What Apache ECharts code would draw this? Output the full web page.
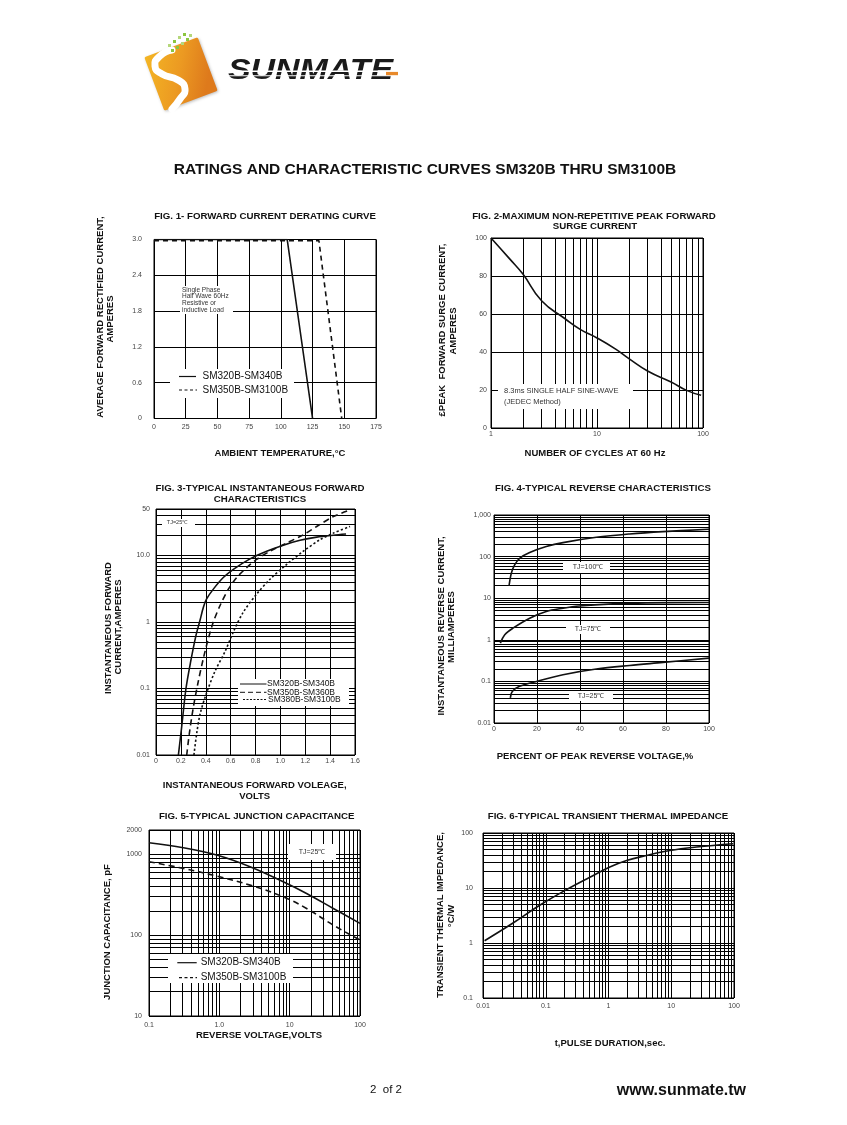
<!DOCTYPE html>
<html><head><meta charset="utf-8">
<script src="https://cdn.jsdelivr.net/npm/echarts@6/dist/echarts.min.js"></script>
<style>html,body{margin:0;padding:0;background:#fff}#c{width:847px;height:1125px}</style>
</head><body><div id="c"></div>
<script>
const FONT = '"Liberation Sans", Arial, sans-serif';

// ---------- FIG 1 : forward current derating ----------
const fig1XTickVals = [0, 25, 50, 75, 100, 125, 150, 175];
const fig1XTickText = ['0', '25', '50', '75', '100', '125', '150', '175'];
const fig1YTickVals = [0, 0.6, 1.2, 1.8, 2.4, 3.0];
const fig1YTickText = ['0', '0.6', '1.2', '1.8', '2.4', '3.0'];
const fig1Solid  = [[0, 3.0], [105, 3.0], [125, 0]];
const fig1Dashed = [[0, 2.98], [130, 2.98], [148, 0]];

// ---------- FIG 2 : peak forward surge current ----------
const fig2XTickVals = [1, 10, 100];
const fig2XTickText = ['1', '10', '100'];
const fig2YTickVals = [0, 20, 40, 60, 80, 100];
const fig2YTickText = ['0', '20', '40', '60', '80', '100'];
const fig2Curve = [[1, 100], [1.5, 89], [2, 81], [3, 67], [5, 57.5], [7, 51.8], [10, 47.4],
  [15, 41.5], [20, 36.5], [30, 30], [50, 24.2], [70, 19.8], [96, 17.2]];

// ---------- FIG 3 : instantaneous forward characteristics ----------
const fig3XTickVals = [0, 0.2, 0.4, 0.6, 0.8, 1.0, 1.2, 1.4, 1.6];
const fig3XTickText = ['0', '0.2', '0.4', '0.6', '0.8', '1.0', '1.2', '1.4', '1.6'];
const fig3YTickVals = [0.01, 0.1, 1, 10, 50];
const fig3YTickText = ['0.01', '0.1', '1', '10.0', '50'];
const fig3Solid = [[0.18, 0.01], [0.206, 0.026], [0.241, 0.1], [0.279, 0.255], [0.322, 0.634],
  [0.354, 1.06], [0.381, 1.67], [0.407, 2.22], [0.461, 3.12], [0.541, 4.66], [0.622, 6.2],
  [0.756, 8.9], [0.890, 11.6], [1.024, 14.3], [1.158, 16.9], [1.292, 18.9], [1.426, 20.2], [1.528, 21.0]];
const fig3Dashed = [[0.247, 0.01], [0.268, 0.021], [0.300, 0.052], [0.340, 0.128], [0.381, 0.285],
  [0.421, 0.565], [0.461, 1.0], [0.515, 1.77], [0.582, 3.12], [0.649, 4.66], [0.729, 6.56],
  [0.809, 8.73], [0.917, 11.6], [1.051, 15.4], [1.185, 20.5], [1.292, 27.3], [1.426, 38.5], [1.546, 47.3]];
const fig3Dotted = [[0.305, 0.01], [0.327, 0.021], [0.354, 0.041], [0.402, 0.081], [0.474, 0.181],
  [0.555, 0.36], [0.622, 0.71], [0.702, 1.41], [0.809, 2.63], [0.917, 4.4], [1.051, 7.36],
  [1.185, 11.6], [1.319, 17.3], [1.426, 21.7], [1.560, 27.3]];

// ---------- FIG 4 : typical reverse characteristics ----------
const fig4XTickVals = [0, 20, 40, 60, 80, 100];
const fig4XTickText = ['0', '20', '40', '60', '80', '100'];
const fig4YTickVals = [0.01, 0.1, 1, 10, 100, 1000];
const fig4YTickText = ['0.01', '0.1', '1', '10', '100', '1,000'];
const fig4Tj100 = [[7.0, 19.8], [8.06, 39.8], [9.6, 63], [11.9, 91], [16.6, 125], [24.3, 174],
  [32.1, 217], [47.6, 291], [63.1, 350], [78.6, 398], [100, 453]];
const fig4Tj75 = [[2.95, 0.83], [5.0, 1.32], [8.8, 1.9], [16.6, 3.3], [24.3, 4.8], [32.1, 5.75],
  [39.8, 6.5], [55.3, 7.3], [70.9, 7.7], [100, 7.9]];
const fig4Tj25 = [[7.6, 0.04], [8.5, 0.0575], [11.9, 0.076], [19.7, 0.1], [32.1, 0.145],
  [47.6, 0.198], [63.1, 0.242], [78.6, 0.286], [100, 0.363]];

// ---------- FIG 5 : typical junction capacitance ----------
const fig5XTickVals = [0.1, 1, 10, 100];
const fig5XTickText = ['0.1', '1.0', '10', '100'];
const fig5YTickVals = [10, 100, 1000, 2000];
const fig5YTickText = ['10', '100', '1000', '2000'];
const fig5Solid = [[0.1, 1390], [0.308, 1208], [0.916, 980], [2.73, 703], [8.1, 458],
  [17.4, 328], [41.7, 214], [100, 140]];
const fig5Dashed = [[0.1, 809], [0.308, 670], [0.916, 538], [2.73, 416], [8.1, 298],
  [17.4, 214], [41.7, 133], [100, 87]];

// ---------- FIG 6 : transient thermal impedance ----------
const fig6XTickVals = [0.01, 0.1, 1, 10, 100];
const fig6XTickText = ['0.01', '0.1', '1', '10', '100'];
const fig6YTickVals = [0.1, 1, 10, 100];
const fig6YTickText = ['0.1', '1', '10', '100'];
const fig6Curve = [[0.0106, 1.10], [0.0301, 2.31], [0.080, 4.85], [0.214, 9.35], [0.504, 15.7],
  [1.05, 24], [1.94, 31.6], [4.04, 39], [9.5, 48], [25.3, 55.5], [97, 63.8]];

// ---------- helpers ----------
function minorLog(min, max) {
  const out = [];
  for (let k = -3; k <= 4; k++) {
    for (let m = 2; m <= 9; m++) {
      const v = Number((m * Math.pow(10, k)).toPrecision(6));
      if (v > min * 1.0001 && v < max * 0.9999) out.push(v);
    }
  }
  return out;
}
function lab(vals, texts) {
  return function (v) {
    for (let i = 0; i < vals.length; i++) {
      if (Math.abs(v - vals[i]) <= Math.abs(vals[i]) * 1e-6 + 1e-9) return texts[i];
    }
    return '';
  };
}
function axis(gridIndex, type, min, max, vals, texts, margin, extra) {
  const a = {
    gridIndex: gridIndex, type: type, min: min, max: max,
    axisLine: { show: false }, axisTick: { show: false },
    splitLine: { show: true, lineStyle: { color: '#000', width: 1 } },
    axisLabel: { fontSize: 7, color: '#444', fontFamily: FONT, margin: margin, formatter: lab(vals, texts) }
  };
  if (type === 'log') a.logBase = 10;
  return Object.assign(a, extra || {});
}
function gridLines(xs, ys) {
  const data = [];
  (xs || []).forEach(v => data.push({ xAxis: v }));
  (ys || []).forEach(v => data.push({ yAxis: v }));
  return {
    silent: true, symbol: ['none', 'none'], animation: false, z: 1,
    label: { show: false }, emphasis: { disabled: true },
    lineStyle: { color: '#000', width: 1, type: 'solid', opacity: 1 },
    data: data
  };
}
function curve(gi, data, dash, smooth, ml) {
  const s = {
    type: 'line', xAxisIndex: gi, yAxisIndex: gi, data: data, symbol: 'none',
    smooth: smooth, silent: true, animation: false, z: 3,
    lineStyle: { color: '#111', width: 1.6, type: dash || 'solid' }
  };
  if (ml) s.markLine = ml;
  return s;
}

// ---------- graphic annotations ----------
const G = [];
function txt(x, y, text, font, opts) {
  opts = opts || {};
  G.push({
    type: 'text', x: x, y: y, z: 60, rotation: opts.rot || 0, scaleX: opts.sx || 1, silent: true,
    style: {
      text: text, fill: opts.color || '#111', font: font,
      align: opts.align || 'center', verticalAlign: 'middle',
      textAlign: opts.align || 'center', textVerticalAlign: 'middle'
    }
  });
}
function white(x, y, w, h) {
  G.push({ type: 'rect', z: 50, silent: true, shape: { x: x, y: y, width: w, height: h }, style: { fill: '#fff' } });
}
function seg(x1, y1, x2, y2, dash, w) {
  G.push({ type: 'line', z: 61, silent: true, shape: { x1: x1, y1: y1, x2: x2, y2: y2 },
    style: { stroke: '#111', lineWidth: w || 1.2, lineDash: dash || null } });
}
const B = (s) => 'bold ' + s + 'px ' + FONT;
const R = (s) => s + 'px ' + FONT;
const ROT = Math.PI / 2;

// Logo
G.push({
  type: 'rect', x: 181, y: 74, rotation: 20.5 * Math.PI / 180, z: 40, silent: true,
  shape: { x: -28.5, y: -28.5, width: 57, height: 57, r: 1.5 },
  style: {
    fill: { type: 'linear', x: 0, y: 0, x2: 1, y2: 0.6,
      colorStops: [{ offset: 0, color: '#f4b624' }, { offset: 0.55, color: '#ec9a22' }, { offset: 1, color: '#de7a1c' }] },
    shadowColor: 'rgba(0,0,0,0.25)', shadowBlur: 3, shadowOffsetX: 1, shadowOffsetY: 1
  }
});
G.push({
  type: 'polyline', z: 41, silent: true,
  shape: { points: [[172, 50], [160, 56], [155, 66], [162, 74], [178, 80], [185, 89], [180, 99], [172, 109]], smooth: 0.6 },
  style: { stroke: '#fff', lineWidth: 7, fill: null, lineCap: 'round' }
});
[[183, 33, '#8cc63e'], [178, 36, '#b5d77a'], [186, 38, '#8cc63e'], [173, 40, '#8cc63e'],
 [181, 42, '#b5d77a'], [168, 44, '#b5d77a'], [176, 46, '#8cc63e'], [171, 49, '#8cc63e'], [189, 34, '#b5d77a']]
  .forEach(p => G.push({ type: 'rect', z: 42, silent: true, shape: { x: p[0], y: p[1], width: 3, height: 3 }, style: { fill: p[2] } }));
txt(228, 71, 'SUNMATE', 'italic bold 30px ' + FONT, { align: 'left', sx: 1.13, color: '#1a1a1a' });
G.push({ type: 'rect', z: 62, silent: true, shape: { x: 226, y: 70.5, width: 176, height: 1.4 }, style: { fill: '#fff' } });
G.push({ type: 'rect', z: 62, silent: true, shape: { x: 226, y: 75.2, width: 176, height: 1.1 }, style: { fill: '#fff' } });
G.push({ type: 'rect', z: 63, silent: true, shape: { x: 386, y: 71.9, width: 12, height: 3.3 }, style: { fill: '#e8892a' } });

// Main title
txt(425, 170, 'RATINGS AND CHARACTERISTIC CURVES SM320B THRU SM3100B', B(15.5));

// Fig 1 texts
txt(265, 216.7, 'FIG. 1- FORWARD CURRENT DERATING CURVE', B(9.7));
txt(100, 317, 'AVERAGE FORWARD RECTIFIED CURRENT,', B(9.5), { rot: ROT });
txt(110, 319, 'AMPERES', B(9.5), { rot: ROT });
txt(280, 453.3, 'AMBIENT TEMPERATURE,°C', B(9.5));
white(180, 286, 53, 28);
txt(182, 290, 'Single Phase', R(6.5), { align: 'left', color: '#333' });
txt(182, 296.7, 'Half Wave 60Hz', R(6.5), { align: 'left', color: '#333' });
txt(182, 303.3, 'Resistive or', R(6.5), { align: 'left', color: '#333' });
txt(182, 310, 'inductive Load', R(6.5), { align: 'left', color: '#333' });
white(170, 369, 124, 29);
seg(179, 376.5, 196, 376.5);
txt(202.5, 376.5, 'SM320B-SM340B', R(10), { align: 'left' });
seg(179, 390, 197, 390, [3, 2.5]);
txt(202.5, 390.7, 'SM350B-SM3100B', R(10), { align: 'left' });

// Fig 2 texts
txt(594, 216.7, 'FIG. 2-MAXIMUM NON-REPETITIVE PEAK FORWARD', B(9.7));
txt(595, 226.7, 'SURGE CURRENT', B(9.7));
txt(442, 330, '£PEAK  FORWARD SURGE CURRENT,', B(9.5), { rot: ROT });
txt(453, 331, 'AMPERES', B(9.5), { rot: ROT });
txt(595, 453.3, 'NUMBER OF CYCLES AT 60 Hz', B(9.5));
white(498, 384, 135, 25);
txt(504, 391, '8.3ms SINGLE HALF SINE-WAVE', R(7.5), { align: 'left', color: '#333' });
txt(504, 401.5, '(JEDEC Method)', R(7.5), { align: 'left', color: '#333' });

// Fig 3 texts
txt(260, 488.3, 'FIG. 3-TYPICAL INSTANTANEOUS FORWARD', B(9.7));
txt(260, 499, 'CHARACTERISTICS', B(9.7));
txt(108.3, 628, 'INSTANTANEOUS FORWARD', B(9.5), { rot: ROT });
txt(118.3, 627, 'CURRENT,AMPERES', B(9.5), { rot: ROT });
txt(254.7, 785, 'INSTANTANEOUS FORWARD VOLEAGE,', B(9.5));
txt(254.7, 796.3, 'VOLTS', B(9.5));
white(162, 519, 33, 8);
txt(177, 522.7, 'TJ=25℃', R(5.5), { color: '#333' });
white(238, 679, 111, 27);
seg(240, 684, 266.5, 684, null, 1);
txt(267, 684, 'SM320B-SM340B', R(8.5), { align: 'left' });
seg(240, 692.3, 266.5, 692.3, [5, 3], 1);
txt(267, 692.3, 'SM350B-SM360B', R(8.5), { align: 'left' });
seg(243, 699.5, 266.5, 699.5, [2, 1.5], 1);
txt(268, 699.5, 'SM380B-SM3100B', R(8.5), { align: 'left' });

// Fig 4 texts
txt(603, 488.3, 'FIG. 4-TYPICAL REVERSE CHARACTERISTICS', B(9.7));
txt(441.7, 626, 'INSTANTANEOUS REVERSE CURRENT,', B(9.5), { rot: ROT });
txt(451.7, 627, 'MILLIAMPERES', B(9.5), { rot: ROT });
txt(595, 756.7, 'PERCENT OF PEAK REVERSE VOLTAGE,%', B(9.5));
white(563, 562, 47, 11);
txt(588, 567.5, 'TJ=100℃', R(7), { color: '#333' });
white(566, 625, 44, 9);
txt(588, 629.5, 'TJ=75℃', R(7), { color: '#333' });
white(569, 691, 44, 10);
txt(591, 696, 'TJ=25℃', R(7), { color: '#333' });

// Fig 5 texts
txt(256.7, 816.7, 'FIG. 5-TYPICAL JUNCTION CAPACITANCE', B(9.7));
txt(107, 932, 'JUNCTION CAPACITANCE, pF', B(9.5), { rot: ROT });
txt(259, 1035.5, 'REVERSE VOLTAGE,VOLTS', B(9.5));
white(288, 844, 48, 16);
txt(312, 852, 'TJ=25℃', R(7), { color: '#333' });
white(168, 954, 125, 29);
seg(177.3, 962.7, 196.7, 962.7);
txt(200.7, 962.7, 'SM320B-SM340B', R(10), { align: 'left' });
seg(179, 977.7, 197, 977.7, [3, 2.5]);
txt(200.7, 977.7, 'SM350B-SM3100B', R(10), { align: 'left' });

// Fig 6 texts
txt(608, 816.7, 'FIG. 6-TYPICAL TRANSIENT THERMAL IMPEDANCE', B(9.7));
txt(440.5, 915, 'TRANSIENT THERMAL IMPEDANCE,', B(9.5), { rot: ROT });
txt(451, 916, '°C/W', B(9.5), { rot: ROT });
txt(610, 1043, 't,PULSE DURATION,sec.', B(9.5));

// Footer
txt(370, 1090, '2  of 2', R(11.5), { align: 'left' });
txt(746, 1090.5, 'www.sunmate.tw', B(16), { align: 'right' });

// ---------- option ----------
const gridBase = { show: true, borderColor: '#000', borderWidth: 1, backgroundColor: 'transparent' };
const option = {
  backgroundColor: '#fff',
  animation: false,
  grid: [
    Object.assign({ left: 154, top: 239.5, width: 222, height: 179 }, gridBase),
    Object.assign({ left: 491, top: 238, width: 212, height: 190 }, gridBase),
    Object.assign({ left: 156, top: 509, width: 199, height: 246 }, gridBase),
    Object.assign({ left: 494, top: 515, width: 215, height: 208 }, gridBase),
    Object.assign({ left: 149, top: 830, width: 211, height: 186 }, gridBase),
    Object.assign({ left: 483, top: 833, width: 251, height: 165 }, gridBase)
  ],
  xAxis: [
    axis(0, 'value', 0, 175, fig1XTickVals, fig1XTickText, 5, { interval: 25 }),
    axis(1, 'log', 1, 100, fig2XTickVals, fig2XTickText, 3),
    axis(2, 'value', 0, 1.6, fig3XTickVals, fig3XTickText, 3, { interval: 0.2 }),
    axis(3, 'value', 0, 100, fig4XTickVals, fig4XTickText, 3, { interval: 20 }),
    axis(4, 'log', 0.1, 100, fig5XTickVals, fig5XTickText, 6),
    axis(5, 'log', 0.01, 100, fig6XTickVals, fig6XTickText, 5)
  ],
  yAxis: [
    axis(0, 'value', 0, 3, fig1YTickVals, fig1YTickText, 12, { interval: 0.6 }),
    axis(1, 'value', 0, 100, fig2YTickVals, fig2YTickText, 4, { interval: 20 }),
    axis(2, 'log', 0.01, 50, fig3YTickVals, fig3YTickText, 6),
    axis(3, 'log', 0.01, 1000, fig4YTickVals, fig4YTickText, 3),
    axis(4, 'log', 10, 2000, fig5YTickVals, fig5YTickText, 7),
    axis(5, 'log', 0.1, 100, fig6YTickVals, fig6YTickText, 10)
  ],
  series: [
    curve(0, fig1Solid, 'solid', false),
    curve(0, fig1Dashed, [5, 4], false),
    curve(1, fig2Curve, 'solid', 0.5, gridLines(minorLog(1, 100), null)),
    curve(2, fig3Solid, 'solid', 0.3, gridLines(null, minorLog(0.01, 50))),
    curve(2, fig3Dashed, [6, 4], 0.3),
    curve(2, fig3Dotted, [2.2, 2.2], 0.3),
    curve(3, fig4Tj100, 'solid', 0.35, gridLines(null, minorLog(0.01, 1000))),
    curve(3, fig4Tj75, 'solid', 0.35),
    curve(3, fig4Tj25, 'solid', 0.35),
    curve(4, fig5Solid, 'solid', 0.4, gridLines(minorLog(0.1, 100), minorLog(10, 2000))),
    curve(4, fig5Dashed, [6, 4], 0.4),
    curve(5, fig6Curve, 'solid', 0.4, gridLines(minorLog(0.01, 100), minorLog(0.1, 100)))
  ],
  graphic: { elements: G }
};
const chart = echarts.init(document.getElementById('c'), null, { renderer: 'canvas', width: 847, height: 1125 });
chart.setOption(option);
</script>
</body></html>
